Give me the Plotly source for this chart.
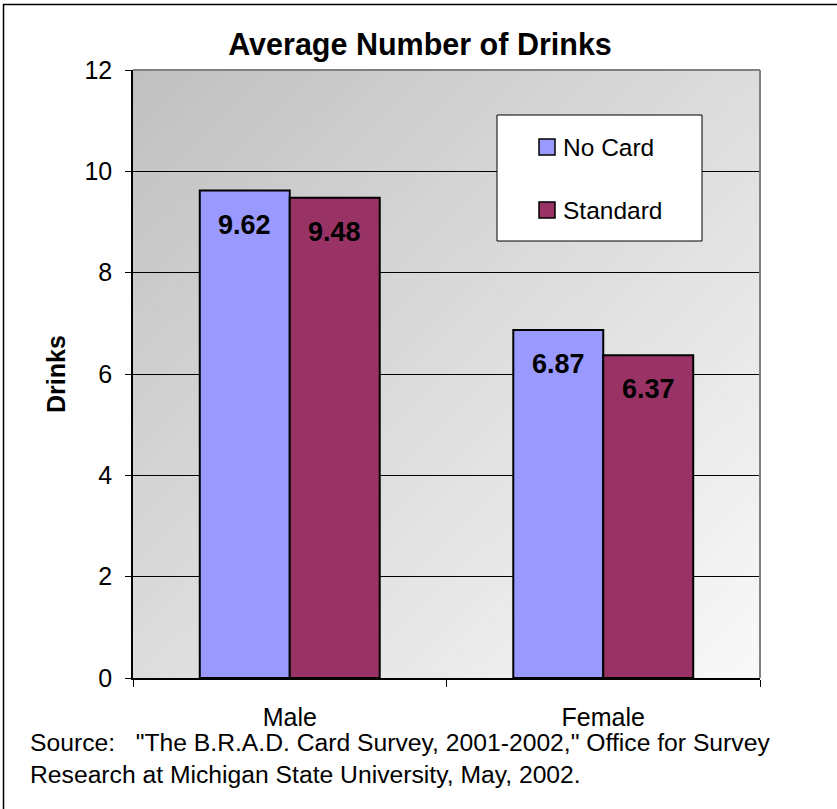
import plotly.graph_objects as go

# ---------------- data ----------------
categories = ["Male", "Female"]
no_card = [9.62, 6.87]
standard = [9.48, 6.37]
series_names = ["No Card", "Standard"]
title_text = "Average Number of Drinks"
y_title = "Drinks"
source_text = ('Source:   "The B.R.A.D. Card Survey, 2001-2002," Office for Survey<br>'
               'Research at Michigan State University, May, 2002.')

# ---------------- geometry (pixels) ----------------
W, H = 837, 809
L, R, T, B = 133, 760, 70, 678
PW, PH = R - L, B - T
FONT = "Liberation Sans, Arial, sans-serif"
BARGAP = 0.426


def px(x):
    return (x - L) / PW


def py(y):
    return (B - y) / PH


fig = go.Figure()
colors = ["#9999FF", "#993366"]
for name, vals, col in zip(series_names, [no_card, standard], colors):
    fig.add_trace(go.Bar(
        x=categories, y=vals, name=name,
        marker=dict(color=col, line=dict(color="black", width=2)),
        showlegend=False, hoverinfo="x+y+name"))

shapes = []


# diagonal gradient background (clipped strips)
def clip(poly, f):
    out = []
    n = len(poly)
    for i in range(n):
        p, q = poly[i], poly[(i + 1) % n]
        fp, fq = f(p), f(q)
        if fp >= 0:
            out.append(p)
        if (fp >= 0) != (fq >= 0):
            t = fp / (fp - fq)
            out.append((p[0] + t * (q[0] - p[0]), p[1] + t * (q[1] - p[1])))
    return out


N = 80
square = [(0, 0), (1, 0), (1, 1), (0, 1)]
for k in range(N):
    a = 2.0 * k / N
    b = 2.0 * (k + 1) / N + 0.004
    poly = clip(square, lambda p, a=a: p[0] + p[1] - a)
    poly = clip(poly, lambda p, b=b: b - (p[0] + p[1]))
    if len(poly) < 3:
        continue
    s = (k + 0.5) / N
    c = int(round(192 + (249 - 192) * s))
    path = "M " + " L ".join(f"{p[0]:.5f},{1 - p[1]:.5f}" for p in poly) + " Z"
    shapes.append(dict(type="path", xref="paper", yref="paper", path=path,
                       fillcolor=f"rgb({c},{c},{c})", line=dict(width=0),
                       layer="below"))

# plot-area border (top/right gray)
shapes.append(dict(type="line", xref="paper", yref="paper", x0=0, x1=1, y0=1, y1=1,
                   line=dict(color="#808080", width=2), layer="above"))
shapes.append(dict(type="line", xref="paper", yref="paper", x0=1, x1=1, y0=0, y1=1,
                   line=dict(color="#808080", width=2), layer="above"))

# outer frame (left and top)
shapes.append(dict(type="path", xref="paper", yref="paper",
                   path=f"M {px(3.5)},{py(812)} L {px(3.5)},{py(4.5)} L {px(840)},{py(4.5)}",
                   line=dict(color="black", width=1.5), layer="above"))

# manual legend
shapes.append(dict(type="rect", xref="paper", yref="paper",
                   x0=px(497), x1=px(702), y0=py(241), y1=py(115),
                   fillcolor="white", line=dict(color="black", width=1), layer="above"))
leg_y = [147, 210]
annotations = []
for name, col, yc in zip(series_names, colors, leg_y):
    shapes.append(dict(type="rect", xref="paper", yref="paper",
                       x0=px(539), x1=px(555), y0=py(yc + 8), y1=py(yc - 8),
                       fillcolor=col, line=dict(color="black", width=1.5), layer="above"))
    annotations.append(dict(xref="paper", yref="paper", x=px(561), y=py(yc),
                            text=name, showarrow=False, xanchor="left", yanchor="middle",
                            font=dict(family=FONT, size=24.5, color="black")))

# bar value labels
half = (1 - BARGAP) / 4
for vals, off in zip([no_card, standard], [-half, half]):
    for i, v in enumerate(vals):
        annotations.append(dict(xref="x", yref="y", x=i + off, y=v, text=f"<b>{v:.2f}</b>",
                                showarrow=False, xanchor="center", yanchor="top", yshift=-17,
                                font=dict(family=FONT, size=27, color="black")))

# y-axis title
annotations.append(dict(xref="paper", yref="paper", x=px(56), y=0.5, text=f"<b>{y_title}</b>",
                        textangle=-90, showarrow=False, xanchor="center", yanchor="middle",
                        font=dict(family=FONT, size=25, color="black")))

# source text
annotations.append(dict(xref="paper", yref="paper", x=px(28), y=py(727), text=source_text,
                        showarrow=False, xanchor="left", yanchor="top", align="left",
                        font=dict(family=FONT, size=24.7, color="black")))

fig.update_layout(
    width=W, height=H,
    margin=dict(l=L, r=W - R, t=T, b=H - B),
    paper_bgcolor="white", plot_bgcolor="white",
    barmode="group", bargap=BARGAP, bargroupgap=0,
    title=dict(text=f"<b>{title_text}</b>", x=420 / W, xanchor="center",
               y=1 - 44 / H, yanchor="middle", xref="container", yref="container",
               font=dict(family=FONT, size=30.5, color="black")),
    shapes=shapes, annotations=annotations,
    xaxis=dict(type="category", tickson="boundaries", ticks="outside", ticklen=7,
               tickcolor="black", showline=True, linecolor="black", linewidth=1.5,
               showgrid=False, tickfont=dict(family=FONT, size=25, color="black"),
               ticklabelstandoff=16),
    yaxis=dict(range=[0, 12], dtick=2, ticks="outside", ticklen=6, tickcolor="black",
               showline=True, linecolor="black", linewidth=1.5,
               showgrid=True, gridcolor="black", gridwidth=1, zeroline=False,
               tickfont=dict(family=FONT, size=25, color="black"), ticklabelstandoff=8),
    font=dict(family=FONT, color="black"),
)

fig.write_html("out.html", config={"displayModeBar": False},
               post_script="document.body.style.margin='0';document.body.style.overflow='hidden';")
